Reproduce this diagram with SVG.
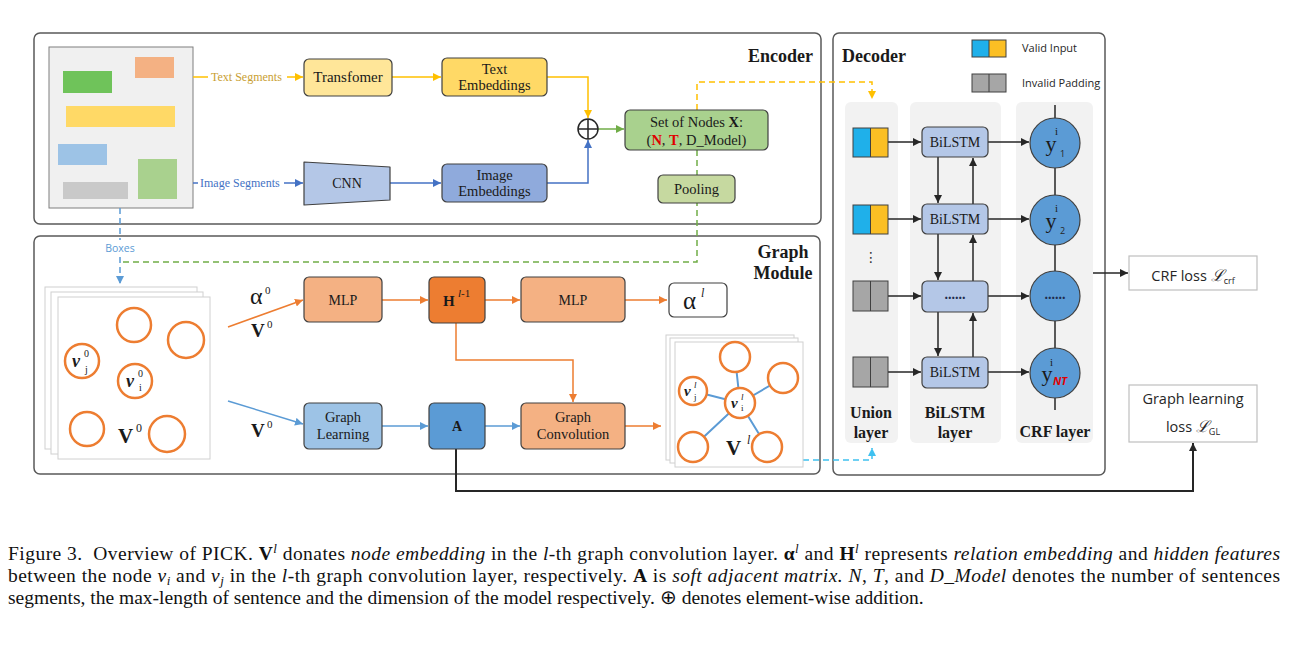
<svg xmlns="http://www.w3.org/2000/svg" width="1291" height="650" viewBox="0 0 1291 650">
<style>
.frame{fill:#fff;stroke:#595959;stroke-width:1.5}
.box{stroke:#404040;stroke-width:1.2}
.serif{font-family:"Liberation Serif","Times New Roman",serif;fill:#1a1a1a}
.sans{font-family:"Open Sans","Liberation Sans",sans-serif;fill:#262626}
.t14{font-size:14.5px}
.mid{text-anchor:middle}
.title{font-size:18px;font-weight:bold}
.lay{font-size:16px;font-weight:bold}
.page{fill:#fff;stroke:#d0d0d0;stroke-width:1}
.node0{fill:#fff;stroke:#ed7d31;stroke-width:2.5}
.c{fill:none;stroke-width:1.5}
.yel{stroke:#ffc000}
.blu{stroke:#4472c4}
.grn{stroke:#70ad47}
.org{stroke:#ed7d31}
.lbl{stroke:#5b9bd5}
.blk{stroke:#262626}
.dash{stroke-dasharray:6 4}
.cap{font-family:"Liberation Serif","Times New Roman",serif;font-size:19.5px;fill:#111}
</style>
<defs>
<marker id="aY" viewBox="0 0 10 10" refX="10" refY="5" markerWidth="8" markerHeight="8" markerUnits="userSpaceOnUse" orient="auto"><path d="M0,0 L10,5 L0,10 z" fill="#ffc000"/></marker>
<marker id="aB" viewBox="0 0 10 10" refX="10" refY="5" markerWidth="8" markerHeight="8" markerUnits="userSpaceOnUse" orient="auto"><path d="M0,0 L10,5 L0,10 z" fill="#4472c4"/></marker>
<marker id="aG" viewBox="0 0 10 10" refX="10" refY="5" markerWidth="8" markerHeight="8" markerUnits="userSpaceOnUse" orient="auto"><path d="M0,0 L10,5 L0,10 z" fill="#70ad47"/></marker>
<marker id="aO" viewBox="0 0 10 10" refX="10" refY="5" markerWidth="8" markerHeight="8" markerUnits="userSpaceOnUse" orient="auto"><path d="M0,0 L10,5 L0,10 z" fill="#ed7d31"/></marker>
<marker id="aL" viewBox="0 0 10 10" refX="10" refY="5" markerWidth="8" markerHeight="8" markerUnits="userSpaceOnUse" orient="auto"><path d="M0,0 L10,5 L0,10 z" fill="#5b9bd5"/></marker>
<marker id="aC" viewBox="0 0 10 10" refX="10" refY="5" markerWidth="8" markerHeight="8" markerUnits="userSpaceOnUse" orient="auto"><path d="M0,0 L10,5 L0,10 z" fill="#3fc1f0"/></marker>
<marker id="aK" viewBox="0 0 10 10" refX="10" refY="5" markerWidth="8" markerHeight="8" markerUnits="userSpaceOnUse" orient="auto"><path d="M0,0 L10,5 L0,10 z" fill="#262626"/></marker>
</defs>

<g id="frames">
<rect class="frame" x="34" y="33" width="787" height="191" rx="6"/>
<rect class="frame" x="34" y="236" width="786" height="238" rx="6"/>
<rect class="frame" x="833" y="33" width="272" height="442" rx="6"/>
<text class="serif title" x="813" y="62" text-anchor="end">Encoder</text>
<text class="serif title mid" x="783" y="258">Graph</text>
<text class="serif title mid" x="783" y="279">Module</text>
<text class="serif title" x="842" y="62">Decoder</text>
</g>

<g id="document">
<rect x="49" y="47" width="144" height="161" fill="#f0f0f0" stroke="#7f7f7f" stroke-width="1"/>
<rect x="135" y="57" width="39" height="21" fill="#f4b183"/>
<rect x="63" y="71" width="49" height="22" fill="#6fc35a"/>
<rect x="66" y="106" width="109" height="21" fill="#ffd966"/>
<rect x="58" y="144" width="49" height="21" fill="#9dc3e6"/>
<rect x="63" y="182" width="65" height="17" fill="#c9c9c9"/>
<rect x="138" y="159" width="39" height="40" fill="#a9d18e"/>
</g>

<g id="decoder-panels">
<rect x="845" y="102" width="53" height="341" rx="6" fill="#f2f2f2"/>
<rect x="910" y="102" width="91" height="341" rx="6" fill="#f2f2f2"/>
<rect x="1016" y="102" width="77" height="341" rx="6" fill="#f2f2f2"/>
</g>

<g id="connectors">
<path class="c yel" d="M193,77 H208"/>
<path class="c yel" d="M287,77 H303" marker-end="url(#aY)"/>
<path class="c yel" d="M392,77 H441" marker-end="url(#aY)"/>
<path class="c yel" d="M547,77 H588 V118" marker-end="url(#aY)"/>
<path class="c blu" d="M193,183 H198"/>
<path class="c blu" d="M284,183 H303" marker-end="url(#aB)"/>
<path class="c blu" d="M390,183 H441" marker-end="url(#aB)"/>
<path class="c blu" d="M547,183 H588 V140" marker-end="url(#aB)"/>
<path class="c grn" d="M598,129 H624" marker-end="url(#aG)"/>
<path class="c grn dash" d="M697,150 V262 H123"/>
<path class="c yel dash" d="M697,110 V82 H872 V99" marker-end="url(#aY)"/>
<path class="c lbl dash" d="M120,208 V240"/>
<path class="c lbl dash" d="M120,257 V284" marker-end="url(#aL)"/>
<path class="c org" d="M228,327 L303,300" marker-end="url(#aO)"/>
<path class="c lbl" d="M228,401 L303,424" marker-end="url(#aL)"/>
<path class="c org" d="M382,300 H428" marker-end="url(#aO)"/>
<path class="c org" d="M485,300 H520" marker-end="url(#aO)"/>
<path class="c org" d="M625,300 H667" marker-end="url(#aO)"/>
<path class="c org" d="M456,323 V360 H573 V402" marker-end="url(#aO)"/>
<path class="c lbl" d="M382,426 H428" marker-end="url(#aL)"/>
<path class="c lbl" d="M485,426 H520" marker-end="url(#aL)"/>
<path class="c org" d="M625,426 H661" marker-end="url(#aO)"/>
<path class="c dash" stroke="#3fc1f0" d="M803,460 H872 V448" marker-end="url(#aC)"/>
<path fill="none" stroke="#262626" stroke-width="2" d="M456,449 V491 H1193 V443" marker-end="url(#aK)"/>
<path class="c blk" d="M888,142 H921" marker-end="url(#aK)"/>
<path class="c blk" d="M888,219 H921" marker-end="url(#aK)"/>
<path class="c blk" d="M888,296 H921" marker-end="url(#aK)"/>
<path class="c blk" d="M888,372 H921" marker-end="url(#aK)"/>
<path class="c blk" d="M988,142 H1029" marker-end="url(#aK)"/>
<path class="c blk" d="M988,219 H1029" marker-end="url(#aK)"/>
<path class="c blk" d="M988,296 H1029" marker-end="url(#aK)"/>
<path class="c blk" d="M988,372 H1029" marker-end="url(#aK)"/>
<path class="c blk" d="M938,157 V203" marker-end="url(#aK)"/>
<path class="c blk" d="M938,234 V280" marker-end="url(#aK)"/>
<path class="c blk" d="M938,312 V356" marker-end="url(#aK)"/>
<path class="c blk" d="M973,204 V158" marker-end="url(#aK)"/>
<path class="c blk" d="M973,281 V235" marker-end="url(#aK)"/>
<path class="c blk" d="M973,357 V313" marker-end="url(#aK)"/>
<path class="c blk" d="M1055,105 V410"/>
<path class="c blk" d="M1093,273 H1128" marker-end="url(#aK)"/>
</g>

<g id="segment-labels">
<text class="serif" x="211" y="81" font-size="12" style="fill:#c9a033">Text Segments</text>
<text class="serif" x="200" y="187" font-size="12" style="fill:#4472c4">Image Segments</text>
<text class="sans mid" x="120" y="252" font-size="10.5" style="fill:#5b9bd5">Boxes</text>
</g>

<g id="transformer">
<rect class="box" x="304" y="59" width="88" height="37" rx="5" fill="#ffe699"/>
<text class="serif mid" x="348" y="82" font-size="15">Transfomer</text>
</g>
<g id="cnn">
<path class="box" d="M304,162 L390,167 L390,200 L304,205 Z" fill="#b4c7e7" stroke-linejoin="round"/>
<text class="serif mid" x="347" y="188" font-size="14">CNN</text>
</g>
<g id="text-embeddings">
<rect class="box" x="442" y="58" width="105" height="38" rx="5" fill="#ffd966"/>
<text class="serif mid t14" x="494.5" y="74">Text</text>
<text class="serif mid t14" x="494.5" y="90">Embeddings</text>
</g>
<g id="image-embeddings">
<rect class="box" x="442" y="164" width="105" height="38" rx="5" fill="#8faadc"/>
<text class="serif mid t14" x="494.5" y="180">Image</text>
<text class="serif mid t14" x="494.5" y="196">Embeddings</text>
</g>
<g id="oplus">
<circle cx="588" cy="129" r="10" fill="#fff" stroke="#262626" stroke-width="1.5"/>
<path d="M578,129 H598 M588,119 V139" stroke="#262626" stroke-width="1.5"/>
</g>
<g id="set-of-nodes">
<rect class="box" x="625" y="110" width="143" height="40" rx="5" fill="#a9d18e"/>
<text class="serif mid t14" x="696.5" y="127">Set of Nodes <tspan font-weight="bold">X</tspan>:</text>
<text class="serif mid t14" x="696.5" y="145">(<tspan font-weight="bold" style="fill:#e00000">N</tspan>, <tspan font-weight="bold" style="fill:#e00000">T</tspan>, D_Model)</text>
</g>
<g id="pooling">
<rect class="box" x="658" y="175" width="77" height="28" rx="5" fill="#c6d9a0"/>
<text class="serif mid t14" x="696.5" y="194">Pooling</text>
</g>

<g id="input-graph">
<rect class="page" x="45" y="287" width="152" height="162"/>
<rect class="page" x="51" y="292" width="152" height="162"/>
<rect class="page" x="58" y="297" width="152" height="162"/>
<circle class="node0" cx="134" cy="325" r="17"/>
<circle class="node0" cx="186" cy="340" r="18"/>
<circle class="node0" cx="82" cy="361" r="17"/>
<circle class="node0" cx="135" cy="381" r="17"/>
<circle class="node0" cx="87" cy="429" r="17"/>
<circle class="node0" cx="167" cy="434" r="18"/>
<text class="serif" x="72" y="367" font-size="18" font-weight="bold" font-style="italic">v</text>
<text class="serif" x="84" y="357" font-size="10">0</text>
<text class="serif" x="85" y="373" font-size="10">j</text>
<text class="serif" x="126" y="387" font-size="18" font-weight="bold" font-style="italic">v</text>
<text class="serif" x="138" y="377" font-size="10">0</text>
<text class="serif" x="139" y="391" font-size="10">i</text>
<text class="serif" x="118" y="443" font-size="21" font-weight="bold">V</text>
<text class="serif" x="136" y="432" font-size="12">0</text>
</g>

<g id="input-labels">
<text class="serif" x="250" y="304" font-size="24">α</text>
<text class="serif" x="265" y="294" font-size="11">0</text>
<text class="serif" x="251" y="337" font-size="19" font-weight="bold">V</text>
<text class="serif" x="267" y="328" font-size="11">0</text>
<text class="serif" x="251" y="437" font-size="19" font-weight="bold">V</text>
<text class="serif" x="267" y="428" font-size="11">0</text>
</g>

<g id="mlp1">
<rect class="box" x="304" y="277" width="78" height="45" rx="5" fill="#f4b183"/>
<text class="serif mid" x="343" y="305" font-size="14">MLP</text>
</g>
<g id="hidden">
<rect class="box" x="429" y="277" width="56" height="46" rx="5" fill="#ed7d31"/>
<text class="serif" x="443" y="306" font-size="15" font-weight="bold">H</text>
<text class="serif" x="458" y="297" font-size="11"><tspan font-style="italic">l</tspan>-1</text>
</g>
<g id="mlp2">
<rect class="box" x="521" y="277" width="104" height="45" rx="5" fill="#f4b183"/>
<text class="serif mid" x="573" y="305" font-size="14">MLP</text>
</g>
<g id="alpha-l">
<rect class="box" x="669" y="283" width="58" height="34" rx="5" fill="#fff"/>
<text class="serif" x="683" y="309" font-size="25">α</text>
<text class="serif" x="701" y="297" font-size="12" font-style="italic">l</text>
</g>
<g id="graph-learning">
<rect class="box" x="304" y="403" width="78" height="46" rx="5" fill="#9dc3e6"/>
<text class="serif mid t14" x="343" y="422">Graph</text>
<text class="serif mid t14" x="343" y="439">Learning</text>
</g>
<g id="adjacency">
<rect class="box" x="429" y="403" width="56" height="46" rx="5" fill="#5b9bd5"/>
<text class="serif mid" x="457" y="431" font-size="14" font-weight="bold">A</text>
</g>
<g id="graph-convolution">
<rect class="box" x="521" y="403" width="104" height="46" rx="5" fill="#f4b183"/>
<text class="serif mid t14" x="573" y="422">Graph</text>
<text class="serif mid t14" x="573" y="439">Convolution</text>
</g>

<g id="output-graph">
<rect class="page" x="666" y="335" width="128" height="125"/>
<rect class="page" x="670" y="338" width="128" height="125"/>
<rect class="page" x="675" y="342" width="128" height="125"/>
<path d="M740,403 L735,357 M740,403 L783,378 M740,403 L693,391 M740,403 L693,447 M740,403 L767,447" stroke="#5b9bd5" stroke-width="2"/>
<circle class="node0" cx="735" cy="357" r="15"/>
<circle class="node0" cx="783" cy="378" r="15"/>
<circle class="node0" cx="693" cy="391" r="14"/>
<circle class="node0" cx="740" cy="403" r="15"/>
<circle class="node0" cx="693" cy="447" r="15"/>
<circle class="node0" cx="767" cy="447" r="15"/>
<text class="serif" x="684" y="396" font-size="15" font-weight="bold" font-style="italic">v</text>
<text class="serif" x="694" y="388" font-size="9" font-style="italic">l</text>
<text class="serif" x="694" y="400" font-size="9">j</text>
<text class="serif" x="731" y="408" font-size="15" font-weight="bold" font-style="italic">v</text>
<text class="serif" x="741" y="400" font-size="9" font-style="italic">l</text>
<text class="serif" x="741" y="411" font-size="9">i</text>
<text class="serif" x="726" y="455" font-size="21" font-weight="bold">V</text>
<text class="serif" x="747" y="444" font-size="12" font-style="italic">l</text>
</g>

<g id="legend">
<rect x="972" y="40" width="17" height="17" fill="#1fb0ea"/>
<rect x="989" y="40" width="17" height="17" fill="#fbbf24"/>
<rect x="972" y="40" width="34" height="17" fill="none" stroke="#404040" stroke-width="1"/>
<path d="M989,40 V57" stroke="#404040" stroke-width="1"/>
<text class="sans" x="1022" y="52" font-size="11">Valid Input</text>
<rect x="972" y="74" width="34" height="18" fill="#a6a6a6" stroke="#404040" stroke-width="1"/>
<path d="M989,74 V92" stroke="#404040" stroke-width="1"/>
<text class="sans" x="1022" y="87" font-size="11">Invalid Padding</text>
</g>

<g id="union-layer">
<rect x="853" y="128" width="17.5" height="29" fill="#1fb0ea"/>
<rect x="870.5" y="128" width="17.5" height="29" fill="#fbbf24"/>
<rect x="853" y="128" width="35" height="29" fill="none" stroke="#404040"/>
<path d="M870.5,128 V157" stroke="#404040"/>
<rect x="853" y="205" width="17.5" height="29" fill="#1fb0ea"/>
<rect x="870.5" y="205" width="17.5" height="29" fill="#fbbf24"/>
<rect x="853" y="205" width="35" height="29" fill="none" stroke="#404040"/>
<path d="M870.5,205 V234" stroke="#404040"/>
<text x="871" y="262" font-family="DejaVu Sans, sans-serif" font-size="14" text-anchor="middle" fill="#333">⋮</text>
<rect x="853" y="281" width="35" height="30" fill="#a6a6a6" stroke="#404040"/>
<path d="M870.5,281 V311" stroke="#404040"/>
<rect x="853" y="357" width="35" height="30" fill="#a6a6a6" stroke="#404040"/>
<path d="M870.5,357 V387" stroke="#404040"/>
<text class="serif lay mid" x="871" y="418">Union</text>
<text class="serif lay mid" x="871" y="438">layer</text>
</g>

<g id="bilstm-layer">
<rect class="box" x="922" y="127" width="66" height="30" rx="5" fill="#b4c7e7"/>
<text class="serif mid" x="955" y="147" font-size="14">BiLSTM</text>
<rect class="box" x="922" y="204" width="66" height="30" rx="5" fill="#b4c7e7"/>
<text class="serif mid" x="955" y="224" font-size="14">BiLSTM</text>
<rect class="box" x="922" y="281" width="66" height="31" rx="5" fill="#b4c7e7"/>
<text class="serif mid" x="955" y="299" font-size="14" font-weight="bold" style="fill:#1f2d4d">......</text>
<rect class="box" x="922" y="357" width="66" height="31" rx="5" fill="#b4c7e7"/>
<text class="serif mid" x="955" y="377" font-size="14">BiLSTM</text>
<text class="serif lay mid" x="955" y="418">BiLSTM</text>
<text class="serif lay mid" x="955" y="438">layer</text>
</g>

<g id="crf-layer">
<circle class="box" cx="1055" cy="143" r="25" fill="#5b9bd5"/>
<text class="serif mid" x="1051" y="151" font-size="22">y</text>
<text class="serif" x="1055" y="135" font-size="11">i</text>
<text class="sans" x="1060" y="157" font-size="9">1</text>
<circle class="box" cx="1055" cy="220" r="25" fill="#5b9bd5"/>
<text class="serif mid" x="1051" y="228" font-size="22">y</text>
<text class="serif" x="1055" y="212" font-size="11">i</text>
<text class="sans" x="1060" y="234" font-size="9">2</text>
<circle class="box" cx="1055" cy="296" r="25" fill="#5b9bd5"/>
<text class="serif mid" x="1055" y="299" font-size="14" font-weight="bold" style="fill:#1f2d4d">......</text>
<circle class="box" cx="1055" cy="373" r="25" fill="#5b9bd5"/>
<text class="serif mid" x="1047" y="381" font-size="22">y</text>
<text class="serif" x="1050" y="366" font-size="11">i</text>
<text class="sans" x="1053" y="385" font-size="11" font-weight="bold" font-style="italic" style="fill:#e00000">NT</text>
<text class="serif lay mid" x="1055" y="437">CRF layer</text>
</g>

<g id="crf-loss">
<rect x="1129" y="256" width="128" height="34" fill="#fff" stroke="#bfbfbf" stroke-width="1.2"/>
<text class="sans mid" x="1193" y="281" font-size="14.5">CRF loss <tspan font-family="DejaVu Serif, serif" font-style="italic" font-size="16">ℒ</tspan><tspan font-size="9" dy="3">crf</tspan></text>
</g>
<g id="graph-learning-loss">
<rect x="1129" y="385" width="128" height="57" fill="#fff" stroke="#bfbfbf" stroke-width="1.2"/>
<text class="sans mid" x="1193" y="404" font-size="14.5">Graph learning</text>
<text class="sans mid" x="1193" y="432" font-size="14.5">loss <tspan font-family="DejaVu Serif, serif" font-style="italic" font-size="16">ℒ</tspan><tspan font-size="9" dy="3">GL</tspan></text>
</g>

<g id="caption">
<text class="cap" x="8" y="560" textLength="1272" lengthAdjust="spacing">Figure 3.&#160; Overview of PICK. <tspan font-weight="bold">V</tspan><tspan font-style="italic" font-size="13" dy="-7">l</tspan><tspan dy="7"> donates </tspan><tspan font-style="italic">node embedding</tspan> in the <tspan font-style="italic">l</tspan>-th graph convolution layer. <tspan font-weight="bold">α</tspan><tspan font-style="italic" font-size="13" dy="-7">l</tspan><tspan dy="7"> and </tspan><tspan font-weight="bold">H</tspan><tspan font-style="italic" font-size="13" dy="-7">l</tspan><tspan dy="7"> represents </tspan><tspan font-style="italic">relation embedding</tspan> and <tspan font-style="italic">hidden features</tspan></text>
<text class="cap" x="8" y="582" textLength="1272" lengthAdjust="spacing">between the node <tspan font-style="italic">v</tspan><tspan font-style="italic" font-size="13" dy="3">i</tspan><tspan dy="-3"> and </tspan><tspan font-style="italic">v</tspan><tspan font-style="italic" font-size="13" dy="3">j</tspan><tspan dy="-3"> in the </tspan><tspan font-style="italic">l</tspan>-th graph convolution layer, respectively. <tspan font-weight="bold">A</tspan> is <tspan font-style="italic">soft adjacent matrix.</tspan> <tspan font-style="italic">N</tspan>, <tspan font-style="italic">T</tspan>, and <tspan font-style="italic">D_Model</tspan> denotes the number of sentences</text>
<text class="cap" x="8" y="604">segments, the max-length of sentence and the dimension of the model respectively. ⊕ denotes element-wise addition.</text>
</g>
</svg>
